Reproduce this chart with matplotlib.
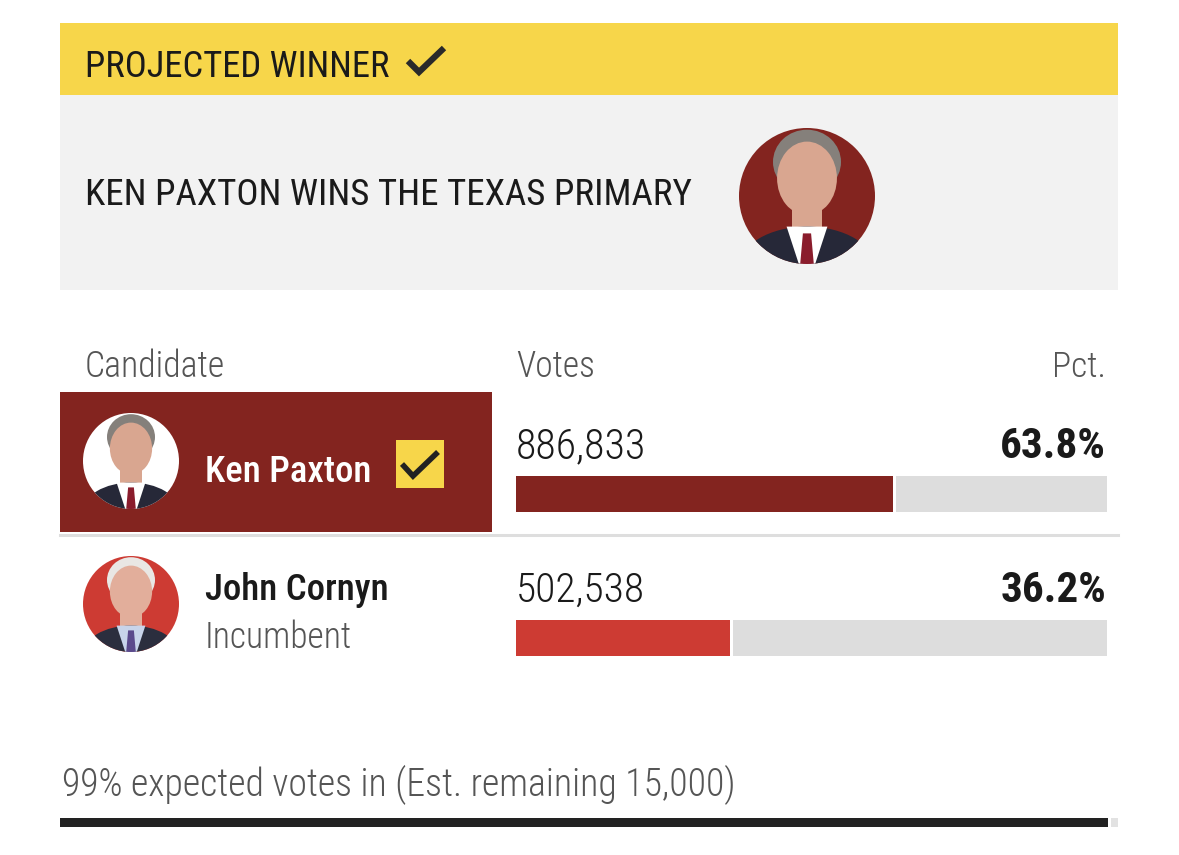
import matplotlib
matplotlib.use("Agg")
import matplotlib.pyplot as plt
import matplotlib.font_manager as fm
from matplotlib.patches import Rectangle, Circle, Ellipse, Polygon

# data
candidates = ["Ken Paxton", "John Cornyn"]
notes = ["", "Incumbent"]
votes = [886833, 502538]
pct = [63.8, 36.2]
winner = 0
expected_in = 99
remaining = 15000
headline = "KEN PAXTON WINS THE TEXAS PRIMARY"

# pick a narrow face if one is around
avail = {f.name for f in fm.fontManager.ttflist}
FONT = "DejaVu Sans"
for cand in ["Roboto Condensed", "Liberation Sans Narrow", "Open Sans Condensed", "Noto Sans Condensed"]:
    if cand in avail:
        FONT = cand
        break
plt.rcParams["font.family"] = [FONT, "DejaVu Sans"]

YELLOW = "#F7D64A"
PANEL = "#F2F2F2"
DARKRED = "#83241F"
RED = "#CD3B33"
TRACK = "#DDDDDD"
GREY_TXT = "#555555"
INK = "#1A1A1A"

W, H = 1179, 855
fig = plt.figure(figsize=(W / 100, H / 100), dpi=100)
ax = fig.add_axes([0, 0, 1, 1])
ax.set_xlim(0, W); ax.set_ylim(H, 0); ax.axis("off")
renderer = fig.canvas.get_renderer()


def put(x, y, s, width, ha="left", **kw):
    # draw text on its baseline and size it so it spans about `width` pixels
    t = ax.text(x, y, s, ha=ha, va="baseline", fontsize=20, zorder=6, **kw)
    bb = t.get_window_extent(renderer)
    t.set_fontsize(20 * width / bb.width)
    return t


def check(pts, lw, color=INK):
    xs, ys = zip(*pts)
    ax.plot(xs, ys, color=color, lw=lw, solid_capstyle="butt", solid_joinstyle="miter", zorder=7)


def portrait(cx, cy, r, bg, hair, skin, suit, shirt, tie):
    ax.add_patch(Circle((cx, cy), r, fc=bg, ec="none", zorder=3))
    clip = Circle((cx, cy), r, transform=ax.transData)
    parts = [
        Ellipse((cx, cy - 0.5 * r), 1.0 * r, 0.95 * r, fc=hair),
        Rectangle((cx - 0.22 * r, cy + 0.05 * r), 0.44 * r, 0.5 * r, fc=skin),
        Ellipse((cx, cy + 1.05 * r), 2.0 * r, 1.2 * r, fc=suit),
        Polygon([(cx - 0.3 * r, cy + 0.45 * r), (cx + 0.3 * r, cy + 0.45 * r),
                 (cx + 0.12 * r, cy + 1.0 * r), (cx - 0.12 * r, cy + 1.0 * r)], fc=shirt),
        Polygon([(cx - 0.06 * r, cy + 0.55 * r), (cx + 0.06 * r, cy + 0.55 * r),
                 (cx + 0.1 * r, cy + 1.0 * r), (cx - 0.1 * r, cy + 1.0 * r)], fc=tie),
        Ellipse((cx, cy - 0.26 * r), 0.88 * r, 1.08 * r, fc=skin),
    ]
    for p in parts:
        p.set_edgecolor("none"); p.set_zorder(4)
        ax.add_patch(p)
        p.set_clip_path(clip)


PAXTON = dict(hair="#85807B", skin="#D9A690", suit="#262838", shirt="#FFFFFF", tie="#8A1C2C")
CORNYN = dict(hair="#E9E7E4", skin="#E2AE9B", suit="#2B2E3E", shirt="#C8D4EA", tie="#5B4A8C")

# banner + headline panel
ax.add_patch(Rectangle((60, 23), 1058, 72, fc=YELLOW, ec="none", zorder=1))
ax.add_patch(Rectangle((60, 95), 1058, 195, fc=PANEL, ec="none", zorder=1))
put(85, 77, "PROJECTED WINNER", 305, color=INK)
check([(408, 61), (419, 72), (444, 48)], 4.5, "#2A2A2A")
put(85, 205, headline, 607, color=INK)
portrait(807, 196, 68, DARKRED, **PAXTON)

# column heads
put(85, 377, "Candidate", 140, color=GREY_TXT, fontweight="light")
put(516, 377, "Votes", 79, color=GREY_TXT, fontweight="light")
put(1106, 377, "Pct.", 54, ha="right", color=GREY_TXT, fontweight="light")

# winner row box
ax.add_patch(Rectangle((60, 392), 432, 140, fc=DARKRED, ec="none", zorder=1))
ax.add_line(plt.Line2D([60, 1118], [535, 535], color="#DEDEDE", lw=2.2, zorder=2))

rows = [dict(photo=(131, 461), name_y=482, num_y=458, bar_top=476, bg="#FFFFFF", look=PAXTON,
             name_w=166, name_col="#FFFFFF", bar_col=DARKRED, vote_w=130),
        dict(photo=(131, 604), name_y=600, num_y=602, bar_top=620, bg=RED, look=CORNYN,
             name_w=183, name_col=INK, bar_col=RED, vote_w=129)]

for i, row in enumerate(rows):
    portrait(row["photo"][0], row["photo"][1], 48, row["bg"], **row["look"])
    put(205, row["name_y"], candidates[i], row["name_w"], color=row["name_col"], fontweight="medium")
    if notes[i]:
        put(205, 648, notes[i], 147, color=GREY_TXT, fontweight="light")
    if i == winner:
        ax.add_patch(Rectangle((396, 440), 48, 48, fc=YELLOW, ec="none", zorder=5))
        check([(402, 464), (413, 476), (438, 452)], 4.0, "#222222")
    put(516, row["num_y"], f"{votes[i]:,}", row["vote_w"], color=INK, fontweight="light")
    put(1106, row["num_y"], f"{pct[i]:.1f}%", 106, ha="right", color=INK, fontweight="bold")

    bax = fig.add_axes([516 / W, 1 - (row["bar_top"] + 36) / H, 591 / W, 36 / H])
    bax.barh(0, pct[i], height=1, color=row["bar_col"], linewidth=0)
    bax.barh(0, 100 - pct[i] - 0.5, left=pct[i] + 0.5, height=1, color=TRACK, linewidth=0)
    bax.set_xlim(0, 100); bax.set_ylim(-0.5, 0.5); bax.axis("off")

# footer
put(62, 796, f"{expected_in}% expected votes in (Est. remaining {remaining:,})", 673,
    color=GREY_TXT, fontweight="light")
ax.add_patch(Rectangle((60, 818), 1048, 9, fc="#222222", ec="none", zorder=2))
ax.add_patch(Rectangle((1111, 818), 7, 9, fc="#E2E2E2", ec="none", zorder=2))

fig.savefig("out.png", dpi=100)
